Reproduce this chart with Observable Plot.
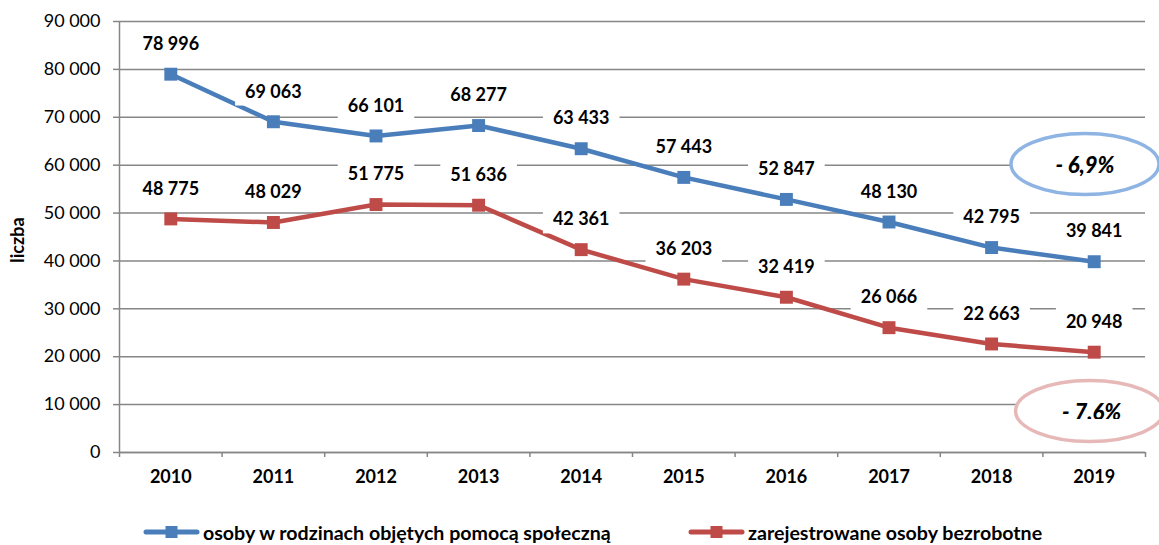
<!DOCTYPE html>
<html>
<head>
<meta charset="utf-8">
<script src="https://cdn.jsdelivr.net/npm/d3@7"></script>
<script src="https://cdn.jsdelivr.net/npm/@observablehq/plot@0.6"></script>
<style>
  html, body { margin: 0; padding: 0; background: #fff; }
  #chart { position: relative; width: 1159px; height: 545px; overflow: hidden; font-family: Lato, "Open Sans", sans-serif; }
  #legend { position: relative; width: 1159px; height: 45px; }
  .item { position: absolute; top: 20px; height: 24px; display: flex; align-items: center; font-weight: bold; font-size: 19.6px; color: #000; white-space: nowrap; }
  .item svg { margin-right: 3px; }
</style>
</head>
<body>
<div id="chart"></div>
<script>
// ---- data ----
const years = [2010, 2011, 2012, 2013, 2014, 2015, 2016, 2017, 2018, 2019];
const assisted = [78996, 69063, 66101, 68277, 63433, 57443, 52847, 48130, 42795, 39841];
const unemployed = [48775, 48029, 51775, 51636, 42361, 36203, 32419, 26066, 22663, 20948];
const seriesNames = ["osoby w rodzinach objętych pomocą społeczną", "zarejestrowane osoby bezrobotne"];
const seriesColors = ["#4A7EBB", "#BE4B48"];
const yTicks = [0, 10000, 20000, 30000, 40000, 50000, 60000, 70000, 80000, 90000];
const yLabel = "liczba";
const changes = ["- 6,9%", "- 7.6%"];
const changeColors = ["#8EB4E3", "#E6B9B8"];

// ---- build table ----
const rows = [];
years.forEach((yr, i) => {
  rows.push({year: yr, value: assisted[i], series: seriesNames[0]});
  rows.push({year: yr, value: unemployed[i], series: seriesNames[1]});
});
const boundaries = years.map(y => y - 0.5).concat([years[years.length - 1] + 0.5]);
const fmt = d => d3.format(",")(d).replace(/,/g, " ");
const grid = "#868686";

const plot = Plot.plot({
  width: 1159,
  height: 500,
  marginLeft: 119,
  marginRight: 14,
  marginTop: 21,
  marginBottom: 48,
  style: {fontFamily: "Lato, 'Open Sans', sans-serif", fontSize: "18px", color: "#000", background: "#fff", overflow: "visible"},
  x: {domain: [boundaries[0], boundaries[boundaries.length - 1]], axis: null},
  y: {domain: [0, 90000], axis: null},
  color: {domain: seriesNames, range: seriesColors},
  marks: [
    Plot.gridY(yTicks, {stroke: grid, strokeOpacity: 1, strokeWidth: 1.5}),
    Plot.axisY(yTicks, {tickSize: 6, tickPadding: 13, tickFormat: fmt, stroke: grid, strokeWidth: 1.5, fill: "#000", label: null}),
    Plot.ruleX([boundaries[0]], {stroke: grid, strokeWidth: 1.5}),
    Plot.ruleY([0], {stroke: grid, strokeWidth: 1.5}),
    Plot.axisX(boundaries, {tickSize: 5, tickFormat: () => "", stroke: grid, strokeWidth: 1.5, label: null}),
    Plot.axisX(years, {tickSize: 0, tickPadding: 18, tickFormat: d => String(d), fontWeight: "bold", fill: "#000", label: null}),
    Plot.line(rows, {x: "year", y: "value", z: "series", stroke: "series", strokeWidth: 4.5}),
    Plot.dot(rows, {x: "year", y: "value", fill: "series", symbol: "square", r: 7.3}),
    Plot.text(rows, {x: "year", y: "value", text: d => fmt(d.value), dy: -30, fontWeight: "bold", fill: "#000"})
  ]
});

document.getElementById("chart").appendChild(plot);

// white boxes behind value labels
d3.select(plot).selectAll('g[aria-label="text"] text').each(function() {
  const b = this.getBBox();
  const r = document.createElementNS("http://www.w3.org/2000/svg", "rect");
  const cy = b.y + b.height / 2;
  r.setAttribute("x", b.x - 10);
  r.setAttribute("y", cy - 15);
  r.setAttribute("width", b.width + 20);
  r.setAttribute("height", 30);
  r.setAttribute("fill", "#fff");
  if (this.getAttribute("transform")) r.setAttribute("transform", this.getAttribute("transform"));
  this.parentNode.insertBefore(r, this);
});

// change annotations (ellipses)
const xs = plot.scale("x"), ys = plot.scale("y");
const svg = d3.select(plot);
const ann = [
  {cx: xs.apply(2018.915), cy: ys.apply(60140), ty: 173, clip: null},
  {cx: xs.apply(2018.96), cy: ys.apply(8560), ty: 420, clip: 419}
];
svg.append("defs").append("clipPath").attr("id", "clipRed")
  .append("rect").attr("x", 0).attr("y", 0).attr("width", 1159).attr("height", 419);
ann.forEach((a, i) => {
  svg.append("ellipse").attr("cx", a.cx).attr("cy", a.cy).attr("rx", 74).attr("ry", 30.5)
    .attr("fill", "#fff").attr("stroke", changeColors[i]).attr("stroke-width", 3.5);
  const t = svg.append("text").attr("x", a.cx + (i ? 2 : 0)).attr("y", a.ty)
    .attr("text-anchor", "middle").attr("font-weight", "900").attr("font-style", "italic")
    .attr("font-size", 22).attr("fill", "#000").text(changes[i]);
  if (a.clip) t.attr("clip-path", "url(#clipRed)");
});

// y axis title
svg.append("text").attr("transform", "translate(24,240) rotate(-90)")
  .attr("text-anchor", "middle").attr("font-weight", "bold").attr("font-size", 18)
  .attr("fill", "#000").text(yLabel);

// legend
const legend = document.createElement("div");
legend.id = "legend";
const lefts = [143, 688];
seriesNames.forEach((name, i) => {
  const it = document.createElement("div");
  it.className = "item";
  it.style.left = lefts[i] + "px";
  it.innerHTML = `<svg width="57" height="14"><line x1="3" y1="7" x2="54" y2="7" stroke="${seriesColors[i]}" stroke-width="5" stroke-linecap="round"/><rect x="22.5" y="1" width="12" height="12" fill="${seriesColors[i]}"/></svg><span></span>`;
  it.querySelector("span").textContent = name;
  legend.appendChild(it);
});
document.getElementById("chart").appendChild(legend);
</script>
</body>
</html>
